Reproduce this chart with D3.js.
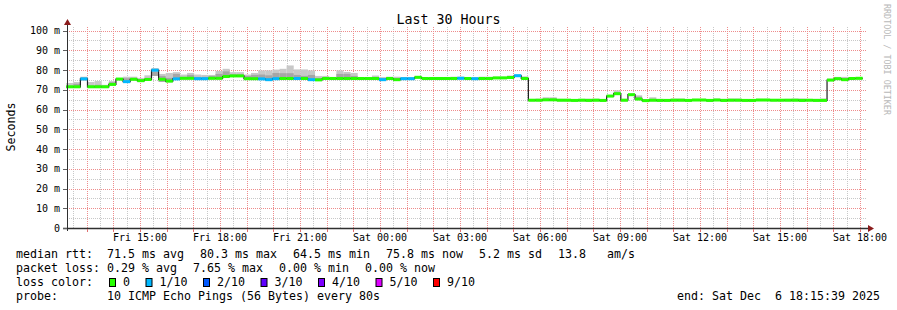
<!DOCTYPE html>
<html lang="en">
<head>
<meta charset="UTF-8">
<title>Last 30 Hours</title>
<script src="https://d3js.org/d3.v7.min.js"></script>
<style>
    body { margin: 0; background: #fff; }
    svg text { font-family: "DejaVu Sans Mono", monospace; fill: #000; white-space: pre; }
</style>
</head>
<body>
<div id="chart"></div>
<script>
    // 16 minute buckets, first one starts Fri 12:16 (UTC)
    const stepStart = Date.UTC(2025, 11, 5, 12, 16);
    const stepMs = 16 * 60 * 1000;
    const startTime = new Date(Date.UTC(2025, 11, 5, 12, 15, 39));
    const endTime = new Date(Date.UTC(2025, 11, 6, 18, 15, 39));

    // median rtt per bucket (ms)
    const median = [
        71.5, 71.5, 75.5, 71.5, 71.5, 71.5, 72.7, 75.4, 74.1, 75.3, 74.6, 75.2,
        79.9, 75.3, 74.4, 75.5, 75.8, 75.8, 75.6, 75.6, 75.8, 75.8, 76.7, 77.0,
        77.0, 75.6, 75.6, 75.5, 75.1, 75.6, 75.7, 75.7, 75.7, 75.7, 75.1, 75.0,
        75.7, 75.7, 75.7, 75.7, 75.7, 75.7, 75.7, 75.7, 75.1, 75.7, 75.1, 75.6,
        75.6, 76.3, 75.7, 75.7, 75.7, 75.7, 75.7, 75.8, 75.7, 75.6, 75.7, 75.7,
        76.0, 76.0, 76.2, 77.1, 75.7, 64.7, 64.7, 64.9, 64.9, 64.7, 64.7, 64.6,
        64.7, 64.6, 64.7, 64.6, 66.8, 68.0, 64.7, 67.5, 65.3, 64.5, 64.7, 64.6,
        64.6, 64.7, 64.7, 64.6, 64.8, 64.8, 64.6, 64.8, 64.6, 64.7, 64.7, 64.6,
        64.6, 64.8, 64.8, 64.7, 64.7, 64.7, 64.7, 64.6, 64.7, 64.6, 64.6, 74.9,
        75.6, 75.1, 75.7, 75.8
    ];
    // loss level per bucket (index into lossColors)
    const loss = [
        0, 0, 1, 0, 0, 0, 0, 0, 1, 0, 0, 0,
        1, 0, 0, 1, 0, 0, 1, 1, 0, 0, 0, 0,
        0, 0, 0, 1, 1, 1, 0, 0, 1, 0, 1, 0,
        0, 0, 0, 0, 0, 0, 0, 0, 1, 0, 0, 1,
        1, 0, 0, 0, 0, 0, 0, 1, 0, 1, 0, 0,
        0, 0, 0, 1, 0, 0, 0, 0, 0, 0, 0, 0,
        0, 0, 0, 0, 0, 0, 0, 0, 0, 0, 0, 0,
        0, 0, 0, 0, 0, 0, 0, 0, 0, 0, 0, 0,
        0, 0, 0, 0, 0, 0, 0, 0, 0, 0, 0, 0,
        0, 0, 0, 0
    ];
    // smoke: lowest ping, inner (darker) top, highest ping
    const smokeLo = [
        71.0, 71.0, 74.8, 71.0, 71.0, 71.0, 72.2, 74.9, 73.6, 74.8, 74.1, 74.7,
        77.0, 74.0, 73.8, 75.0, 75.3, 75.3, 75.1, 75.1, 75.3, 75.3, 76.2, 76.5,
        76.5, 75.1, 75.1, 75.0, 74.6, 75.1, 75.2, 75.2, 75.2, 75.2, 74.6, 74.5,
        75.2, 75.2, 75.2, 75.2, 75.2, 75.2, 75.2, 75.2, 74.6, 75.2, 74.6, 75.1,
        75.1, 75.8, 75.2, 75.2, 75.2, 75.2, 75.2, 75.3, 75.2, 75.1, 75.2, 75.2,
        75.5, 75.5, 75.7, 76.6, 75.2, 64.2, 64.2, 64.4, 64.4, 64.2, 64.2, 64.1,
        64.2, 64.1, 64.2, 64.1, 66.3, 67.5, 64.2, 67.0, 64.8, 64.0, 64.2, 64.1,
        64.1, 64.2, 64.2, 64.1, 64.3, 64.3, 64.1, 64.3, 64.1, 64.2, 64.2, 64.1,
        64.1, 64.3, 64.3, 64.2, 64.2, 64.2, 64.2, 64.1, 64.2, 64.1, 64.1, 74.4,
        75.1, 74.6, 75.2, 75.3
    ];
    const smokeMid = [
        72.0, 73.0, 76.2, 72.2, 72.5, 72.0, 73.8, 75.6, 75.8, 75.8, 75.4, 76.0,
        79.0, 77.0, 76.0, 78.0, 76.5, 77.5, 76.5, 76.5, 77.0, 78.0, 79.3, 77.8,
        77.8, 77.0, 77.5, 77.7, 77.3, 78.5, 78.4, 78.4, 77.5, 77.0, 77.5, 76.0,
        76.0, 76.0, 78.0, 78.0, 77.0, 76.0, 76.0, 76.4, 76.0, 76.0, 76.0, 76.2,
        76.2, 76.4, 76.0, 76.0, 76.0, 76.0, 76.2, 76.5, 76.0, 76.0, 76.0, 76.0,
        76.4, 76.4, 76.8, 77.5, 76.2, 65.0, 65.0, 65.4, 65.4, 65.0, 65.0, 64.9,
        65.0, 65.0, 65.0, 64.9, 67.0, 68.6, 65.0, 67.8, 66.5, 64.9, 65.3, 64.9,
        64.9, 65.2, 65.3, 64.9, 65.1, 65.1, 64.9, 65.3, 64.9, 65.1, 65.1, 64.9,
        64.9, 65.1, 65.1, 65.0, 65.0, 65.0, 65.2, 65.2, 64.9, 65.0, 65.2, 75.2,
        76.0, 76.0, 76.0, 76.0
    ];
    const smokeHi = [
        73.4, 73.9, 76.6, 73.9, 74.4, 72.5, 74.4, 76.0, 76.6, 76.6, 76.0, 77.3,
        81.0, 78.0, 78.5, 78.9, 77.7, 78.5, 77.7, 77.5, 77.5, 79.5, 80.6, 78.9,
        78.9, 77.7, 78.5, 79.8, 79.8, 80.2, 80.6, 82.3, 80.3, 80.3, 79.8, 77.0,
        77.0, 76.5, 79.8, 79.0, 78.5, 76.4, 76.4, 77.2, 76.4, 76.6, 76.6, 76.4,
        76.4, 76.6, 76.4, 76.4, 76.4, 76.4, 76.6, 76.6, 76.4, 76.4, 76.6, 76.6,
        76.6, 76.6, 77.2, 77.8, 76.8, 65.3, 65.5, 66.2, 66.2, 65.4, 65.4, 65.3,
        65.4, 65.5, 65.5, 65.3, 67.3, 69.7, 65.4, 68.0, 67.2, 65.3, 66.2, 65.4,
        65.3, 65.6, 65.6, 65.3, 65.4, 65.4, 65.3, 65.6, 65.4, 65.6, 65.6, 65.3,
        65.3, 65.4, 65.4, 65.3, 65.3, 65.4, 65.6, 65.6, 65.3, 65.4, 65.6, 75.6,
        76.5, 76.5, 76.2, 76.3
    ];

    const yTicks = [0, 10, 20, 30, 40, 50, 60, 70, 80, 90, 100];
    const yMinor = [5, 15, 25, 35, 45, 55, 65, 75, 85, 95];

    const lossColors = ["#26ff00", "#00b8ff", "#0059ff", "#5e00ff", "#7e00ff", "#dd00ff", "#ff0000"];
    const lossLabels = ["0", "1/10", "2/10", "3/10", "4/10", "5/10", "9/10"];
    const rttStats = ["71.5 ms avg", "80.3 ms max", "64.5 ms min", "75.8 ms now", "5.2 ms sd", "13.8   am/s"];
    const lossStats = ["0.29 % avg", "7.65 % max", "0.00 % min", "0.00 % now"];
    const probeText = "10 ICMP Echo Pings (56 Bytes) every 80s";
    const endText = "end: Sat Dec  6 18:15:39 2025";

    const width = 897, height = 310;
    const plotLeft = 67, plotRight = 867, plotTop = 27, plotBottom = 228;
    const charW = 7;
    const minorColor = "#c8c8c8", majorColor = "#ee8c8c";

    const svg = d3.select("#chart").append("svg")
        .attr("width", width)
        .attr("height", height);

    const x = d3.scaleUtc().domain([startTime, endTime]).range([plotLeft, plotRight]);
    const y = d3.scaleLinear().domain([0, 100]).range([plotBottom, 30.5]);

    // grid
    const grid = svg.append("g").attr("shape-rendering", "crispEdges");
    grid.selectAll(".hmin").data(yMinor).enter().append("line")
        .attr("x1", plotLeft).attr("x2", plotRight)
        .attr("y1", d => Math.round(y(d)) + 0.5).attr("y2", d => Math.round(y(d)) + 0.5)
        .style("stroke", minorColor).style("stroke-dasharray", "1,1");
    grid.selectAll(".vmin").data(d3.utcMinute.every(30).range(startTime, endTime)
            .filter(d => d.getUTCMinutes() === 30)).enter().append("line")
        .attr("x1", d => Math.round(x(d)) + 0.5).attr("x2", d => Math.round(x(d)) + 0.5)
        .attr("y1", plotTop).attr("y2", plotBottom)
        .style("stroke", minorColor).style("stroke-dasharray", "1,1");
    grid.selectAll(".hmaj").data(yTicks.slice(1)).enter().append("line")
        .attr("x1", plotLeft).attr("x2", plotRight)
        .attr("y1", d => Math.round(y(d)) + 0.5).attr("y2", d => Math.round(y(d)) + 0.5)
        .style("stroke", majorColor).style("stroke-dasharray", "1,1");
    grid.selectAll(".vmaj").data(d3.utcHour.every(1).range(startTime, endTime)).enter().append("line")
        .attr("x1", d => Math.round(x(d)) + 0.5).attr("x2", d => Math.round(x(d)) + 0.5)
        .attr("y1", plotTop).attr("y2", plotBottom)
        .style("stroke", majorColor).style("stroke-dasharray", "1,1");

    const steps = median.map((m, i) => ({
        t0: new Date(stepStart + i * stepMs),
        t1: new Date(stepStart + (i + 1) * stepMs),
        med: m, loss: loss[i], lo: smokeLo[i], mid: smokeMid[i], hi: smokeHi[i]
    }));
    const shift = -1;

    // smoke
    svg.append("g").selectAll("rect").data(steps).enter().append("rect")
        .attr("x", d => x(d.t0) + shift)
        .attr("width", d => x(d.t1) - x(d.t0))
        .attr("y", d => y(d.hi))
        .attr("height", d => y(d.lo) - y(d.hi))
        .style("fill", "#c8c8c8");
    svg.append("g").selectAll("rect").data(steps).enter().append("rect")
        .attr("x", d => x(d.t0) + shift)
        .attr("width", d => x(d.t1) - x(d.t0))
        .attr("y", d => y(d.mid))
        .attr("height", d => Math.max(0, y(d.lo) - y(d.mid)))
        .style("fill", "#a6a6a6");

    // black median step line
    const pts = steps.map(d => [x(d.t0) + shift, y(d.med)]);
    pts.push([x(steps[steps.length - 1].t1) + shift, y(median[median.length - 1])]);
    svg.append("path")
        .attr("d", d3.line().curve(d3.curveStepAfter)(pts))
        .style("fill", "none").style("stroke", "#202020").style("stroke-width", 1.2);

    // loss coloured median bands
    svg.append("g").selectAll("rect").data(steps).enter().append("rect")
        .attr("x", d => x(d.t0) + shift)
        .attr("width", d => x(d.t1) - x(d.t0))
        .attr("y", d => y(d.med) - 1.5)
        .attr("height", 3)
        .style("fill", d => lossColors[d.loss]);

    // axes
    const axisColor = "#303030", arrowColor = "#8b1c1c";
    svg.append("line").attr("x1", plotLeft + 0.5).attr("x2", plotLeft + 0.5).attr("y1", plotBottom + 3).attr("y2", 24)
        .style("stroke", axisColor);
    svg.append("line").attr("x1", plotLeft - 4).attr("x2", plotRight + 2)
        .attr("y1", plotBottom + 0.5).attr("y2", plotBottom + 0.5)
        .style("stroke", axisColor).style("stroke-width", 1.3);
    svg.append("path").attr("d", `M${plotLeft - 3},25 L${plotLeft + 4},25 L${plotLeft + 0.5},19 Z`)
        .style("fill", arrowColor);
    svg.append("path")
        .attr("d", `M${plotRight + 1},${plotBottom - 3} L${plotRight + 1},${plotBottom + 4} L${plotRight + 7},${plotBottom + 0.5} Z`)
        .style("fill", arrowColor);

    // ticks
    svg.append("g").selectAll("line").data(d3.utcHour.every(1).range(startTime, endTime)).enter().append("line")
        .attr("x1", d => Math.round(x(d)) + 0.5).attr("x2", d => Math.round(x(d)) + 0.5)
        .attr("y1", plotBottom + 1).attr("y2", plotBottom + 4)
        .style("stroke", "#e07070");
    svg.append("g").selectAll("line").data(yTicks).enter().append("line")
        .attr("x1", plotLeft - 4).attr("x2", plotLeft)
        .attr("y1", d => Math.round(y(d)) + 0.5).attr("y2", d => Math.round(y(d)) + 0.5)
        .style("stroke", "#606060");

    // axis labels
    svg.append("g").selectAll("text").data(yTicks).enter().append("text")
        .attr("x", 60).attr("y", d => y(d))
        .attr("dy", "0.35em")
        .attr("text-anchor", "end")
        .style("font-size", "10px")
        .text(d => d === 0 ? "0" : d + " m");
    const fmt = d3.utcFormat("%a %H:%M");
    svg.append("g").selectAll("text").data(d3.utcHour.every(3).range(startTime, endTime)).enter().append("text")
        .attr("x", d => x(d)).attr("y", 241)
        .attr("text-anchor", "middle")
        .style("font-size", "10px")
        .text(d => fmt(d));

    svg.append("text").attr("x", width / 2).attr("y", 24)
        .attr("text-anchor", "middle").style("font-size", "13.3px")
        .text("Last 30 Hours");
    svg.append("text").attr("transform", "translate(15,127) rotate(-90)")
        .attr("text-anchor", "middle").style("font-size", "11.6px")
        .text("Seconds");
    svg.append("text").attr("transform", "translate(884,4) rotate(90)")
        .style("font-size", "8.4px").style("fill", "#b8b8b8")
        .text("RRDTOOL / TOBI OETIKER");

    // legend
    const lg = svg.append("g").style("font-size", "11.63px");
    const rows = [258, 272, 286, 300];
    lg.append("text").attr("x", 16).attr("y", rows[0]).text("median rtt:");
    lg.append("text").attr("x", 16).attr("y", rows[1]).text("packet loss:");
    lg.append("text").attr("x", 16).attr("y", rows[2]).text("loss color:");
    lg.append("text").attr("x", 16).attr("y", rows[3]).text("probe:");

    function placeRow(items, row) {
        let cx = 107;
        items.forEach(s => {
            lg.append("text").attr("x", cx).attr("y", row).text(s);
            cx += s.length * charW + 16;
        });
    }
    placeRow(rttStats, rows[0]);
    placeRow(lossStats, rows[1]);

    let bx = 109;
    lossLabels.forEach((lab, i) => {
        lg.append("rect").attr("x", bx + 0.5).attr("y", 278.5).attr("width", 6).attr("height", 8)
            .style("fill", lossColors[i]).style("stroke", "#000").style("stroke-width", 1);
        lg.append("text").attr("x", bx + 14).attr("y", rows[2]).text(lab);
        bx += 14 + lab.length * charW + 15.5;
    });

    lg.append("text").attr("x", 107).attr("y", rows[3]).text(probeText);
    lg.append("text").attr("x", 880).attr("y", rows[3]).attr("text-anchor", "end").text(endText);
</script>
</body>
</html>
